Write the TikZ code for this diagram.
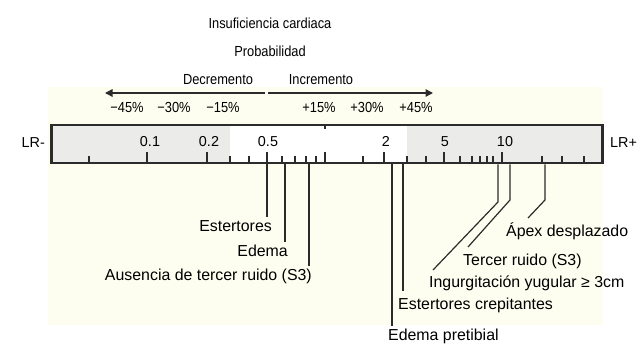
\documentclass[tikz,border=0pt]{standalone}
\usepackage{fontspec}
\setmainfont{Liberation Sans}
\usetikzlibrary{arrows.meta}
\definecolor{cream}{HTML}{FEFEF0}
\definecolor{barfill}{HTML}{EBEBEA}
\definecolor{ink}{HTML}{2B2B2B}
\newcommand{\narrow}[1]{\scalebox{0.88}[1]{#1}}
\begin{document}
\begin{tikzpicture}[x=1pt,y=-1pt,
  toptext/.style={font=\fontsize{14.6}{16}\selectfont, inner sep=0pt, text=black},
  numtext/.style={font=\fontsize{14.4}{16}\selectfont, inner sep=0pt, text=black},
  labtext/.style={font=\fontsize{15.9}{18}\selectfont, inner sep=0pt, text=black},
  leader/.style={draw=ink, line width=1.2pt},
  tickmark/.style={draw=ink, line width=1.1pt},
  dirarrow/.style={draw=ink, line width=1.4pt, -{Triangle[length=7.5pt,width=7.5pt]}}]
\useasboundingbox (0,0) rectangle (638,344);
\fill[cream] (48,87) rectangle (603,325);
% bar
\fill[barfill] (50,124) rectangle (230,162);
\fill[white] (230,124) rectangle (407,162);
\fill[barfill] (407,124) rectangle (601,162);
\node[draw=ink, line width=2.5pt, minimum width=551pt, minimum height=38pt, inner sep=0pt, anchor=north west] (bar) at (50,124) {};
% ticks
\foreach \x in {89,230,249,282,295,306,316,363,407,426,460,472,480,487,493,542,562,584}
  \draw[tickmark] (\x,162) -- (\x,156);
\foreach \x in {147,207,267,325,384,444,502}
  \draw[tickmark] (\x,162) -- (\x,152);
\draw[tickmark] (325,124) -- (325,129);
% scale numbers
\node[numtext, anchor=base] (n01) at (150,147) {0.1};
\node[numtext, anchor=base] (n02) at (209,147) {0.2};
\node[numtext, anchor=base] (n05) at (268,147) {0.5};
\node[numtext, anchor=base] (n2) at (386,147) {2};
\node[numtext, anchor=base] (n5) at (445,147) {5};
\node[numtext, anchor=base] (n10) at (505,147) {10};
\node[numtext, anchor=base east] (lrm) at (45,148) {LR-};
\node[numtext, anchor=base west] (lrp) at (610,148) {LR+};
% titles
\node[toptext, anchor=base] (title) at (270,29) {\narrow{Insuficiencia cardiaca}};
\node[toptext, anchor=base] (prob) at (270,57) {\narrow{Probabilidad}};
\node[toptext, anchor=base] (dec) at (218,85) {\narrow{Decremento}};
\node[toptext, anchor=base] (inc) at (321,85) {\narrow{Incremento}};
% arrows
\coordinate (ac1) at (265,93);
\coordinate (al) at (105,93);
\coordinate (ac2) at (268,93);
\coordinate (ar) at (433,93);
\draw[dirarrow] (ac1) -- (al);
\draw[dirarrow] (ac2) -- (ar);
% percents
\node[toptext, anchor=base] (p45m) at (127,113) {\narrow{−45\%}};
\node[toptext, anchor=base] (p30m) at (174,113) {\narrow{−30\%}};
\node[toptext, anchor=base] (p15m) at (223,113) {\narrow{−15\%}};
\node[toptext, anchor=base] (p15p) at (319,113) {\narrow{+15\%}};
\node[toptext, anchor=base] (p30p) at (367,113) {\narrow{+30\%}};
\node[toptext, anchor=base] (p45p) at (416,113) {\narrow{+45\%}};
% labels
\node[labtext, anchor=base east] (est) at (272,232) {Estertores};
\node[labtext, anchor=base east] (ede) at (288,257) {Edema};
\node[labtext, anchor=base east] (aus) at (312,281) {Ausencia de tercer ruido (S3)};
\node[labtext, anchor=base west] (epr) at (388,341) {Edema pretibial};
\node[labtext, anchor=base west] (ecr) at (398,310) {Estertores crepitantes};
\node[labtext, anchor=base west] (ing) at (429,288) {Ingurgitación yugular ≥ 3cm};
\node[labtext, anchor=base west] (ter) at (463,266) {Tercer ruido (S3)};
\node[labtext, anchor=base west] (apx) at (506,237) {Ápex desplazado};
% leaders
\coordinate (e1) at (267,217);
\coordinate (e2) at (285,242);
\coordinate (e3) at (309,266);
\coordinate (e4) at (392,326);
\coordinate (e5) at (403,291);
\coordinate (k6) at (498,202); \coordinate (e6) at (433,270);
\coordinate (k7) at (510,200); \coordinate (e7) at (468,247);
\coordinate (k8) at (545,200); \coordinate (e8) at (528,218);
\draw[leader] (bar.south -| e1) -- (e1);
\draw[leader] (bar.south -| e2) -- (e2);
\draw[leader] (bar.south -| e3) -- (e3);
\draw[leader] (bar.south -| e4) -- (e4);
\draw[leader] (bar.south -| e5) -- (e5);
\draw[leader] (bar.south -| k6) -- (k6) -- (e6);
\draw[leader] (bar.south -| k7) -- (k7) -- (e7);
\draw[leader] (bar.south -| k8) -- (k8) -- (e8);
\end{tikzpicture}
\end{document}
